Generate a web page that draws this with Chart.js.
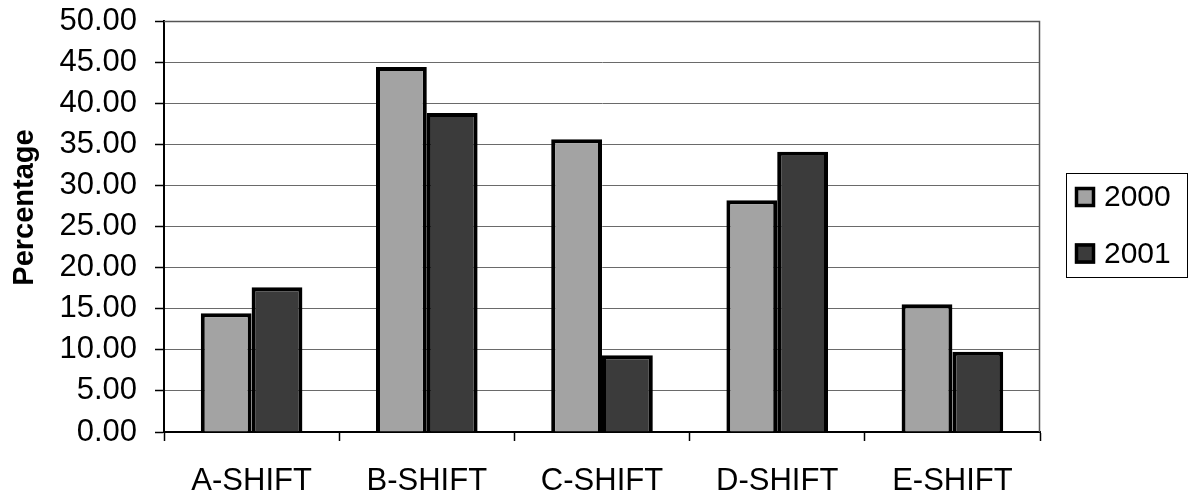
<!DOCTYPE html>
<html>
<head>
<meta charset="utf-8">
<script src="https://cdn.jsdelivr.net/npm/chart.js@4.4.1/dist/chart.umd.min.js"></script>
<style>
  html, body { margin: 0; padding: 0; background: #ffffff; }
  canvas { display: block; }
</style>
</head>
<body>
<canvas id="chart" width="1192" height="499"></canvas>
<script>
// Shift share by year (percent)
const shifts = ['A-SHIFT', 'B-SHIFT', 'C-SHIFT', 'D-SHIFT', 'E-SHIFT'];
const years = ['2000', '2001'];
const values2000 = [14.45, 44.40, 35.60, 28.20, 15.55];
const values2001 = [17.60, 38.80, 9.35, 34.10, 9.75];
const yTicks = [0, 5, 10, 15, 20, 25, 30, 35, 40, 45, 50];

const FONT = '"Liberation Sans", Arial, sans-serif';
const fills = ['#a3a3a3', '#3b3b3b'];

// Rotated y-axis title, frame around the plot and boxed legend
const decorations = {
  id: 'decorations',
  afterDraw(chart) {
    const ctx = chart.ctx;
    const a = chart.chartArea;
    ctx.save();
    // plot frame (top and right edges)
    ctx.strokeStyle = '#555555';
    ctx.lineWidth = 1.5;
    ctx.beginPath();
    ctx.moveTo(a.left, a.top + 0.5);
    ctx.lineTo(a.right - 0.5, a.top + 0.5);
    ctx.lineTo(a.right - 0.5, a.bottom);
    ctx.stroke();

    // y-axis title
    ctx.fillStyle = '#000000';
    ctx.font = 'bold 29px ' + FONT;
    ctx.textAlign = 'center';
    ctx.textBaseline = 'alphabetic';
    ctx.translate(32.5, 207.5);
    ctx.rotate(-Math.PI / 2);
    ctx.fillText('Percentage', 0, 0);
    ctx.restore();

    // legend
    ctx.save();
    ctx.strokeStyle = '#000000';
    ctx.lineWidth = 1;
    ctx.strokeRect(1066.5, 173.5, 121, 104);
    ctx.font = '30px ' + FONT;
    ctx.textAlign = 'left';
    ctx.textBaseline = 'middle';
    chart.data.datasets.forEach((ds, i) => {
      const cy = 197 + i * 56.5;
      ctx.fillStyle = ds.backgroundColor;
      ctx.fillRect(1075, cy - 10, 20, 20);
      ctx.lineWidth = 3.5;
      ctx.strokeStyle = '#000000';
      ctx.strokeRect(1076.5, cy - 8.5, 17, 17);
      ctx.fillStyle = '#000000';
      ctx.fillText(ds.label, 1104, cy + 1);
    });
    ctx.restore();
  }
};

new Chart(document.getElementById('chart'), {
  type: 'bar',
  data: {
    labels: shifts,
    datasets: [
      { label: years[0], data: values2000, backgroundColor: fills[0] },
      { label: years[1], data: values2001, backgroundColor: fills[1] }
    ]
  },
  options: {
    responsive: false,
    animation: false,
    layout: { autoPadding: false, padding: { top: 21, right: 152, left: 0, bottom: 0 } },
    datasets: {
      bar: {
        borderColor: '#000000',
        borderWidth: 4,
        categoryPercentage: 0.58,
        barPercentage: 1.0
      }
    },
    plugins: {
      legend: { display: false },
      tooltip: { enabled: false }
    },
    scales: {
      x: {
        afterFit(scale) {
          scale.height = 67;
          scale.paddingLeft = 0; scale.paddingRight = 0;
          scale.paddingTop = 0; scale.paddingBottom = 0;
        },
        grid: {
          offset: true,
          drawOnChartArea: false,
          drawTicks: true,
          tickLength: 9,
          tickColor: '#000000',
          tickWidth: 1.5
        },
        border: { color: '#000000', width: 2 },
        ticks: {
          color: '#000000',
          font: { family: FONT, size: 31 },
          padding: 22,
          maxRotation: 0,
          autoSkip: false
        }
      },
      y: {
        min: 0,
        max: 50,
        afterFit(scale) {
          scale.width = 164;
          scale.paddingLeft = 0; scale.paddingRight = 0;
          scale.paddingTop = 0; scale.paddingBottom = 0;
        },
        afterBuildTicks(scale) { scale.ticks = yTicks.map(v => ({ value: v })); },
        grid: {
          color: '#6a6a6a',
          lineWidth: 1,
          drawTicks: true,
          tickLength: 9,
          tickColor: '#000000',
          tickWidth: 1.5
        },
        border: { color: '#000000', width: 2 },
        ticks: {
          color: '#000000',
          font: { family: FONT, size: 31 },
          padding: 18,
          autoSkip: false,
          callback: v => Number(v).toFixed(2)
        }
      }
    }
  },
  plugins: [decorations]
});
</script>
</body>
</html>
